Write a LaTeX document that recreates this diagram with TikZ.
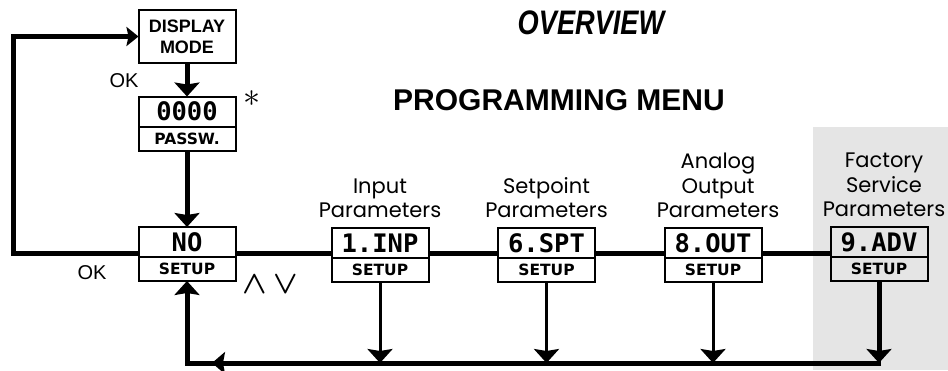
\documentclass[tikz,border=0pt]{standalone}
\usepackage{fontspec}
\setmainfont{Liberation Sans}
\newfontfamily\lcdfont{DejaVu Sans Mono}
\newfontfamily\keyfont{DejaVu Sans}
\newfontfamily\lblfont{Poppins}
\usetikzlibrary{arrows.meta,positioning,shapes}
\definecolor{servgray}{RGB}{229,229,229}
\newcommand{\thickw}{5pt}
\newcommand{\thinw}{3pt}
\newcommand{\boxw}{2pt}
% display box: upper part (name) and lower part (name-s)
\newcommand{\menubox}[5]{%
	\node[lcdtop] (#1) at (#2,#3) {#4};
	\node[lcdbot, below=0pt of #1] (#1-s) {#5};}

\begin{document}
\begin{tikzpicture}[x=1pt,y=-1pt,>={Stealth[width=25pt,length=14pt,inset=2pt]}]
	
	\tikzset{
		lcdtop/.style={draw, line width=\boxw, minimum width=97pt, minimum height=30pt,
			inner sep=0pt, outer sep=0pt, font=\lcdfont\bfseries\fontsize{25.5}{25.5}\selectfont},
		lcdbot/.style={lcdtop, minimum height=24pt, font=\keyfont\bfseries\fontsize{15.5}{15.5}\selectfont},
		mainline/.style={line width=\thickw},
		subline/.style={line width=\thinw},
		lbl/.style={align=center, inner sep=0pt, font=\lblfont\fontsize{21}{24.5}\selectfont},
		oktext/.style={inner sep=0pt, font=\fontsize{20}{20}\selectfont}
	}
	\useasboundingbox (0,0) rectangle (948,370);
	%\draw[help lines,step=50] (0,0) grid (948,370);
	\fill[servgray] (813,127) rectangle (948,370);
	
	% titles
	\node[font=\bfseries\itshape\fontsize{34}{34}\selectfont, xscale=0.8] (ovw) at (591,22.5) {OVERVIEW};
	\node[font=\bfseries\fontsize{30}{30}\selectfont] (pmenu) at (559,100) {PROGRAMMING MENU};
	
	% boxes
	\node[lcdtop, minimum height=53pt, align=center, font=\bfseries\fontsize{18}{21}\selectfont] (disp) at (187,36.5) {DISPLAY\\MODE};
	\menubox{pw}{187}{111.5}{0000}{PASSW.}
	\menubox{no}{187}{242}{NO}{SETUP}
	\menubox{inp}{380}{243}{1.INP}{SETUP}
	\menubox{spt}{546.5}{243}{6.SPT}{SETUP}
	\menubox{out}{713}{243}{8.OUT}{SETUP}
	\menubox{adv}{879}{242}{9.ADV}{SETUP}
	
	% labels
	\node[lbl, above=10pt of inp] (inplbl) {Input\\Parameters};
	\node[lbl, above=10pt of spt] (sptlbl) {Setpoint\\Parameters};
	\node[lbl, above=10pt of out, xshift=5pt] (outlbl) {Analog\\Output\\Parameters};
	\node[lbl, above=10pt of adv, xshift=5pt] (advlbl) {Factory\\Service\\Parameters};
	\node[oktext] (ok1) at (124,81) {OK};
	\node[oktext] (ok2) at (92,273) {OK};
	\node[inner sep=0pt, scale=3.4] (star) at (252,99) {$\ast$};
	\node[inner sep=0pt, scale=3.2, font=\boldmath] (keys) at (270,285) {$\wedge\,\vee$};
	
	\coordinate (mid) at (0,253);
	\coordinate (bot) at (0,363);
	\coordinate (lft) at (13,253);
	\coordinate (nobot) at (no-s |- bot);
	\coordinate (advbot) at (adv-s |- bot);
	
	% connectors
	\draw[mainline,->] (disp) -- (pw);
	\draw[mainline,->] (pw-s) -- (no);
	\foreach \a/\b in {no/inp,inp/spt,spt/out,out/adv}
		\draw[mainline] (\a.east |- mid) -- (\b.west |- mid);
	\draw[mainline,-{Stealth[width=19pt,length=12pt,inset=2pt]}] (no.west |- mid) -- (lft) |- (disp.west);
	\foreach \b in {inp,spt,out}
		\draw[subline,->] (\b-s) -- (\b-s |- bot);
	\draw[mainline,->] (adv-s) -- (advbot);
	\draw[mainline,->] ([xshift=2pt]advbot) -- (nobot) -- (no-s);
	\draw[mainline,-{Stealth[width=22pt,length=13pt,inset=2pt]}] ([xshift=38pt]nobot) -- ([xshift=25pt]nobot);
	
\end{tikzpicture}
\end{document}
